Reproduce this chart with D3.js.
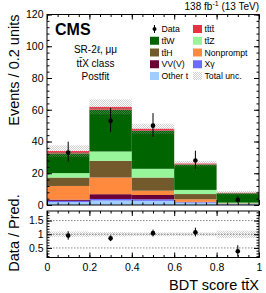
<!DOCTYPE html>
<html>
<head>
<meta charset="utf-8">
<script src="https://cdn.jsdelivr.net/npm/d3@7"></script>
<style>
  body { margin: 0; background: #fff; }
  text { font-family: "Liberation Sans", Arial, sans-serif; fill: #000; }
</style>
</head>
<body>
<div class="chart"></div>
<script>
// bin edges of the BDT score
var binLo = [0.0, 0.2, 0.4, 0.6, 0.8];
var binHi = [0.2, 0.4, 0.6, 0.8, 1.0];

// postfit yields per process (bottom of stack first)
var otherT    = [1.8, 2.8, 2.6, 1.5, 0.4];
var xGamma    = [0.8, 1.0, 1.0, 0.3, 0.2];
var vvv       = [0.8, 3.0, 2.7, 0.2, 0.1];
var nonprompt = [8.6, 10.5, 2.7, 1.6, 0.15];
var ttH       = [5.3, 10.5, 8.3, 3.3, 0.15];
var ttZ       = [2.8, 5.9, 5.5, 2.6, 0.5];
var ttW       = [12.4, 26.3, 23.9, 16.0, 5.9];
var tttt      = [1.5, 1.8, 1.3, 0.6, 0.3];
var totalUnc  = [3.6, 4.7, 3.2, 1.7, 1.1];

// observed data
var dataVal  = [33, 53, 50, 28, 3.2];
var dataUp   = [6.9, 8.1, 7.9, 6.2, 2.5];
var dataDown = [5.7, 7.1, 7.0, 5.2, 1.6];

// ratio panel
var ratioVal  = [0.95, 0.85, 1.04, 1.07, 0.38];
var ratioUp   = [0.16, 0.11, 0.13, 0.17, 0.22];
var ratioDown = [0.15, 0.10, 0.12, 0.15, 0.20];
var ratioUnc  = [0.10, 0.08, 0.07, 0.07, 0.13];

var yTicks = [0, 20, 40, 60, 80, 100, 120];
var xTicks = [0, 0.2, 0.4, 0.6, 0.8, 1];
var rTicks = [0.5, 1, 1.5];

var keys = ["otherT", "xGamma", "vvv", "nonprompt", "ttH", "ttZ", "ttW", "tttt"];
var colors = {
  tttt: "#ea3141",
  ttW: "#006400",
  ttZ: "#99f599",
  ttH: "#735a2d",
  nonprompt: "#ff8a3d",
  vvv: "#6b0038",
  xGamma: "#6b6bff",
  otherT: "#9dceff"
};
var series = { otherT: otherT, xGamma: xGamma, vvv: vvv, nonprompt: nonprompt,
  ttH: ttH, ttZ: ttZ, ttW: ttW, tttt: tttt };

var svgWidth = 266;
var svgHeight = 293;

var svg = d3.select(".chart")
  .append("svg")
  .attr("width", svgWidth)
  .attr("height", svgHeight);

// hatch pattern for total uncertainty
var defs = svg.append("defs");
var pat = defs.append("pattern")
  .attr("id", "hatch")
  .attr("width", 2)
  .attr("height", 2)
  .attr("patternUnits", "userSpaceOnUse");
pat.append("rect").attr("x", 0).attr("y", 0).attr("width", 1).attr("height", 1)
  .attr("fill", "#999").attr("opacity", 0.45);
pat.append("rect").attr("x", 1).attr("y", 1).attr("width", 1).attr("height", 1)
  .attr("fill", "#999").attr("opacity", 0.45);

// scales
var x = d3.scaleLinear().domain([0, 1]).range([47, 259]);
var y = d3.scaleLinear().domain([0, 120]).range([205, 14.5]);
var yr = d3.scaleLinear().domain([0.15, 1.85]).range([257.5, 211]);

// stacked table
var rows = binLo.map(function(lo, i) {
  var r = { lo: lo, hi: binHi[i] };
  keys.forEach(function(k) { r[k] = series[k][i]; });
  return r;
});
var stacked = d3.stack().keys(keys)(rows);

var main = svg.append("g");

main.selectAll("g.layer")
  .data(stacked)
  .enter()
  .append("g")
  .attr("class", "layer")
  .attr("fill", d => colors[d.key])
  .selectAll("rect")
  .data(d => d)
  .enter()
  .append("rect")
  .attr("x", d => x(d.data.lo))
  .attr("width", d => x(d.data.hi) - x(d.data.lo))
  .attr("y", d => y(d[1]))
  .attr("height", d => y(d[0]) - y(d[1]));

var totals = stacked[stacked.length - 1].map(d => d[1]);

// total uncertainty
main.selectAll("rect.unc")
  .data(totals)
  .enter()
  .append("rect")
  .attr("class", "unc")
  .attr("x", (d, i) => x(binLo[i]))
  .attr("width", (d, i) => x(binHi[i]) - x(binLo[i]))
  .attr("y", (d, i) => y(d + totalUnc[i]))
  .attr("height", (d, i) => y(d - totalUnc[i]) - y(d + totalUnc[i]))
  .attr("fill", "url(#hatch)");

// data points
var mid = binLo.map((lo, i) => (lo + binHi[i]) / 2);
main.selectAll("line.err")
  .data(dataVal)
  .enter()
  .append("line")
  .attr("x1", (d, i) => x(mid[i]))
  .attr("x2", (d, i) => x(mid[i]))
  .attr("y1", (d, i) => y(d + dataUp[i]))
  .attr("y2", (d, i) => y(d - dataDown[i]))
  .attr("stroke", "#000")
  .attr("stroke-width", 1);
main.selectAll("circle.pt")
  .data(dataVal)
  .enter()
  .append("circle")
  .attr("cx", (d, i) => x(mid[i]))
  .attr("cy", d => y(d))
  .attr("r", 2.3)
  .attr("fill", "#000");

// axes: ticks inside the frame, ROOT style
function ticksOnly(g) { g.select(".domain").remove(); g.selectAll("text").remove(); }
function styleAxis(g) {
  g.select(".domain").remove();
  g.selectAll("line").attr("stroke", "#000");
  g.selectAll("text").style("font-size", "10.5px").style("font-family", "Liberation Sans, Arial, sans-serif");
}

main.append("g").attr("transform", "translate(47,0)")
  .call(d3.axisLeft(y).tickValues(yTicks).tickSize(-5).tickPadding(3.5))
  .call(styleAxis);
main.append("g").attr("transform", "translate(47,0)")
  .call(d3.axisLeft(y).tickValues(d3.range(0, 121, 4)).tickSize(-2.5)).call(ticksOnly);
main.append("g").attr("transform", "translate(259,0)")
  .call(d3.axisRight(y).tickValues(yTicks).tickSize(-5)).call(ticksOnly);
main.append("g").attr("transform", "translate(259,0)")
  .call(d3.axisRight(y).tickValues(d3.range(0, 121, 4)).tickSize(-2.5)).call(ticksOnly);
main.append("g").attr("transform", "translate(0,205)")
  .call(d3.axisBottom(x).tickValues(xTicks).tickSize(-5)).call(ticksOnly);
main.append("g").attr("transform", "translate(0,205)")
  .call(d3.axisBottom(x).tickValues(d3.range(0, 1.001, 0.05)).tickSize(-2.5)).call(ticksOnly);
main.append("g").attr("transform", "translate(0,14.5)")
  .call(d3.axisTop(x).tickValues(xTicks).tickSize(-5)).call(ticksOnly);
main.append("g").attr("transform", "translate(0,14.5)")
  .call(d3.axisTop(x).tickValues(d3.range(0, 1.001, 0.05)).tickSize(-2.5)).call(ticksOnly);

main.append("rect")
  .attr("x", 47).attr("y", 14.5).attr("width", 212).attr("height", 190.5)
  .attr("fill", "none").attr("stroke", "#000").attr("stroke-width", 1);

// ratio panel
var ratio = svg.append("g");

ratio.selectAll("rect.runc")
  .data(ratioUnc)
  .enter()
  .append("rect")
  .attr("x", (d, i) => x(binLo[i]))
  .attr("width", (d, i) => x(binHi[i]) - x(binLo[i]))
  .attr("y", d => yr(1 + d))
  .attr("height", d => yr(1 - d) - yr(1 + d))
  .attr("fill", "url(#hatch)");

ratio.selectAll("line.ref")
  .data(rTicks)
  .enter()
  .append("line")
  .attr("x1", 47).attr("x2", 259)
  .attr("y1", d => yr(d)).attr("y2", d => yr(d))
  .attr("stroke", "#555")
  .attr("stroke-width", 0.7)
  .attr("stroke-dasharray", "1.5,1.5");

ratio.selectAll("line.rerr")
  .data(ratioVal)
  .enter()
  .append("line")
  .attr("x1", (d, i) => x(mid[i]))
  .attr("x2", (d, i) => x(mid[i]))
  .attr("y1", (d, i) => yr(d + ratioUp[i]))
  .attr("y2", (d, i) => yr(d - ratioDown[i]))
  .attr("stroke", "#000");
ratio.selectAll("circle.rpt")
  .data(ratioVal)
  .enter()
  .append("circle")
  .attr("cx", (d, i) => x(mid[i]))
  .attr("cy", d => yr(d))
  .attr("r", 2.3)
  .attr("fill", "#000");

ratio.append("g").attr("transform", "translate(47,0)")
  .call(d3.axisLeft(yr).tickValues(rTicks).tickFormat(d3.format("")).tickSize(-5).tickPadding(3.5))
  .call(styleAxis);
ratio.append("g").attr("transform", "translate(47,0)")
  .call(d3.axisLeft(yr).tickValues(d3.range(0.2, 1.85, 0.1)).tickSize(-2.5)).call(ticksOnly);
ratio.append("g").attr("transform", "translate(259,0)")
  .call(d3.axisRight(yr).tickValues(rTicks).tickSize(-5)).call(ticksOnly);
ratio.append("g").attr("transform", "translate(259,0)")
  .call(d3.axisRight(yr).tickValues(d3.range(0.2, 1.85, 0.1)).tickSize(-2.5)).call(ticksOnly);
ratio.append("g").attr("transform", "translate(0,257.5)")
  .call(d3.axisBottom(x).tickValues(xTicks).tickFormat(d3.format("")).tickSize(-5).tickPadding(6))
  .call(styleAxis);
ratio.append("g").attr("transform", "translate(0,257.5)")
  .call(d3.axisBottom(x).tickValues(d3.range(0, 1.001, 0.05)).tickSize(-2.5)).call(ticksOnly);
ratio.append("g").attr("transform", "translate(0,211)")
  .call(d3.axisTop(x).tickValues(xTicks).tickSize(-5)).call(ticksOnly);
ratio.append("g").attr("transform", "translate(0,211)")
  .call(d3.axisTop(x).tickValues(d3.range(0, 1.001, 0.05)).tickSize(-2.5)).call(ticksOnly);

ratio.append("rect")
  .attr("x", 47).attr("y", 211).attr("width", 212).attr("height", 46.5)
  .attr("fill", "none").attr("stroke", "#000").attr("stroke-width", 1);

// axis titles
svg.append("text")
  .attr("transform", "translate(19,14.5) rotate(-90)")
  .attr("text-anchor", "end")
  .style("font-size", "14.5px")
  .text("Events / 0.2 units");
svg.append("text")
  .attr("transform", "translate(19,233) rotate(-90)")
  .attr("text-anchor", "middle")
  .style("font-size", "14.5px")
  .text("Data / Pred.");
svg.append("text")
  .attr("x", 259).attr("y", 290)
  .attr("text-anchor", "end")
  .style("font-size", "14.5px")
  .text("BDT score tt\u0304X");

// lumi label
var lumi = svg.append("text")
  .attr("x", 259).attr("y", 10)
  .attr("text-anchor", "end")
  .style("font-size", "10px");
lumi.append("tspan").text("138 fb");
lumi.append("tspan").attr("dy", -4).style("font-size", "7px").text("-1");
lumi.append("tspan").attr("dy", 4).text(" (13 TeV)");

// CMS label and category text
svg.append("text")
  .attr("x", 55).attr("y", 35)
  .style("font-size", "16px")
  .style("font-weight", "bold")
  .text("CMS");

var infoLines = ["SR-2\u2113, \u03bc\u03bc", "tt\u0304X class", "Postfit"];
svg.selectAll("text.info")
  .data(infoLines)
  .enter()
  .append("text")
  .attr("class", "info")
  .attr("x", 95.5)
  .attr("y", (d, i) => 53 + i * 13.5)
  .attr("text-anchor", "middle")
  .style("font-size", "10px")
  .text(d => d);

// legend
var legendItems = [
  { label: "Data", type: "data", col: 0, row: 0 },
  { label: "tt\u0304tt\u0304", key: "tttt", col: 1, row: 0 },
  { label: "tt\u0304W", key: "ttW", col: 0, row: 1 },
  { label: "tt\u0304Z", key: "ttZ", col: 1, row: 1 },
  { label: "tt\u0304H", key: "ttH", col: 0, row: 2 },
  { label: "Nonprompt", key: "nonprompt", col: 1, row: 2 },
  { label: "VV(V)", key: "vvv", col: 0, row: 3 },
  { label: "X\u03b3", key: "xGamma", col: 1, row: 3 },
  { label: "Other t", key: "otherT", col: 0, row: 4 },
  { label: "Total unc.", type: "unc", col: 1, row: 4 }
];
var colX = [150, 193];

var legend = svg.append("g")
  .selectAll("g")
  .data(legendItems)
  .enter()
  .append("g")
  .attr("transform", d => `translate(${colX[d.col]}, ${29 + d.row * 11.75})`);

legend.filter(d => d.key)
  .append("rect")
  .attr("x", 0).attr("y", -4).attr("width", 9).attr("height", 8)
  .attr("fill", d => colors[d.key]);
legend.filter(d => d.type === "unc")
  .append("rect")
  .attr("x", 0).attr("y", -4).attr("width", 9).attr("height", 8)
  .attr("fill", "url(#hatch)");
legend.filter(d => d.type === "data")
  .append("line")
  .attr("x1", 4.5).attr("x2", 4.5).attr("y1", -4).attr("y2", 4)
  .attr("stroke", "#000");
legend.filter(d => d.type === "data")
  .append("circle")
  .attr("cx", 4.5).attr("cy", 0).attr("r", 2)
  .attr("fill", "#000");

legend.append("text")
  .attr("x", 11.5).attr("y", 3.2)
  .style("font-size", "8.7px")
  .text(d => d.label);
</script>
</body>
</html>
